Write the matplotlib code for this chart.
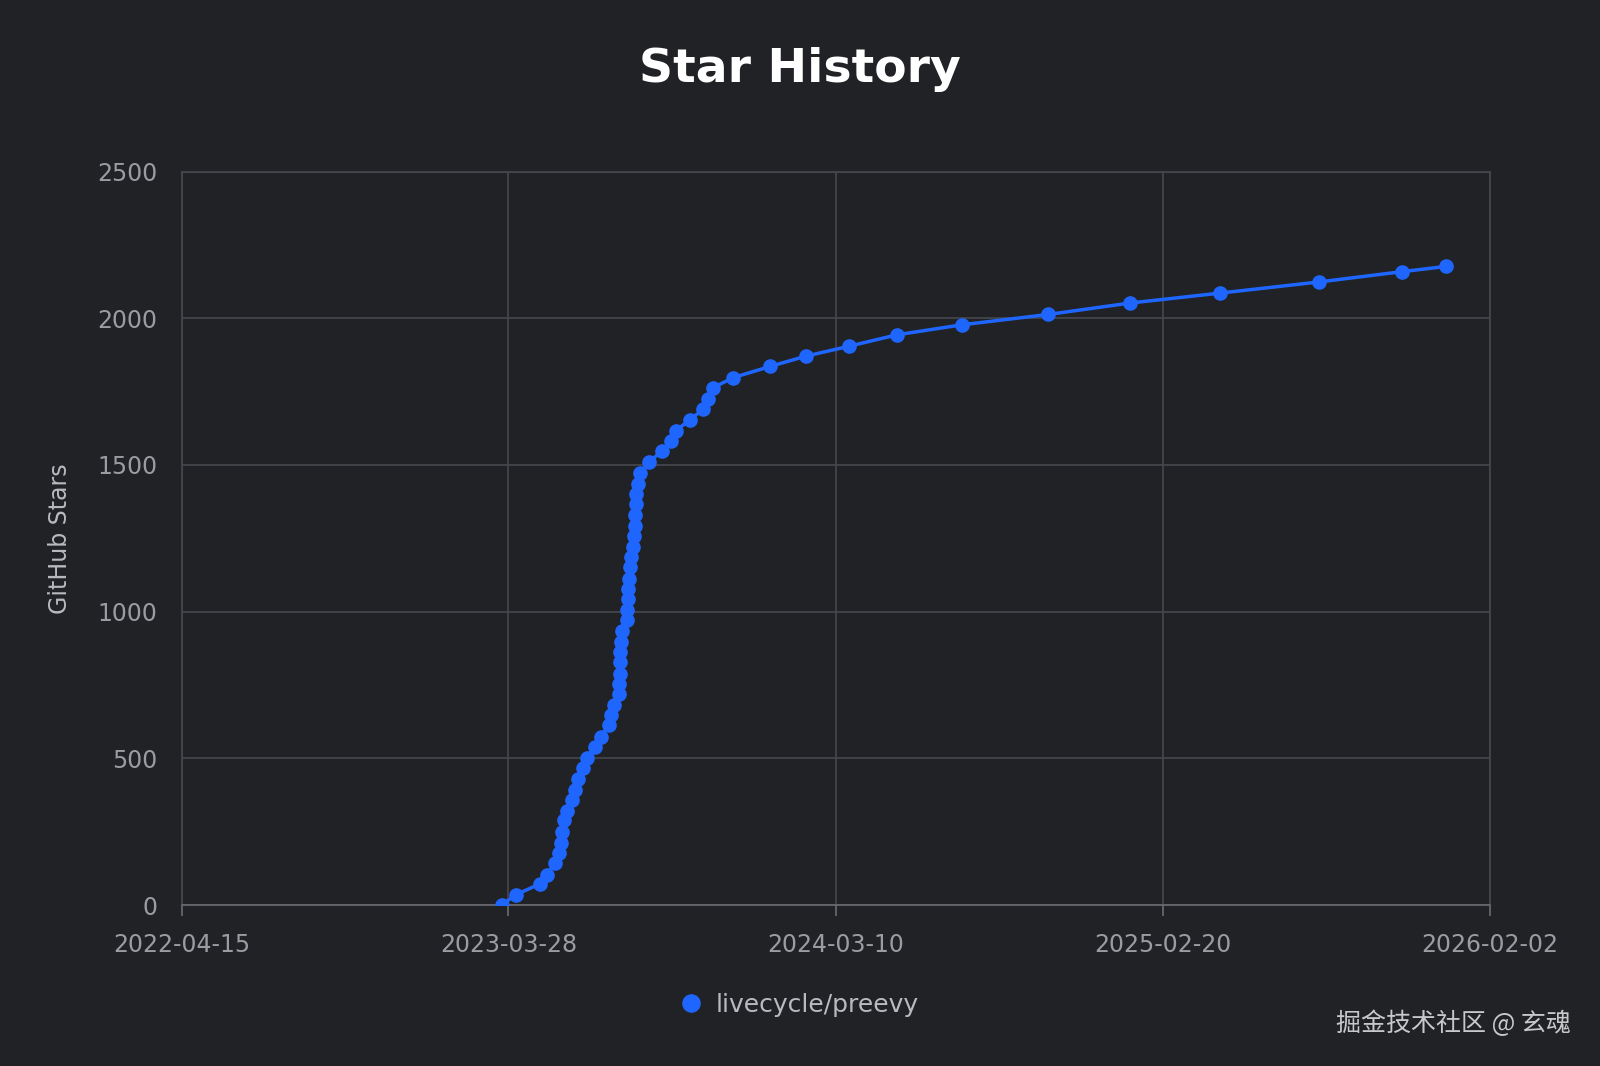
import pandas as pd
import numpy as np
import matplotlib
matplotlib.use('Agg')
import matplotlib.pyplot as plt
import matplotlib.dates as mdates

plt.rcParams['font.family'] = ['DejaVu Sans', 'Noto Sans CJK SC']

START = pd.Timestamp('2022-04-15')
# days since 2022-04-15
days = [340, 355, 381, 388, 397, 401, 403, 404, 406, 409, 415, 418, 421, 426, 430,
        439, 445, 454, 456, 459, 464, 464, 466, 466, 466, 467, 468, 473, 473, 474,
        474, 475, 476, 477, 479, 480, 481, 482, 483, 483, 485, 487, 496, 510, 520,
        525, 540, 554, 559, 564, 586, 625, 663, 709, 760, 829, 920, 1007, 1103,
        1208, 1296, 1343]
stars = [0, 35, 73, 104, 143, 177, 212, 250, 289, 320, 358, 393, 431, 466, 500,
         539, 574, 612, 647, 681, 720, 754, 789, 828, 862, 897, 935, 970, 1005, 1043,
         1078, 1113, 1151, 1186, 1220, 1259, 1293, 1328, 1366, 1401, 1436, 1471, 1509, 1547, 1582,
         1617, 1655, 1690, 1725, 1763, 1798, 1836, 1871, 1905, 1944, 1978, 2013, 2052, 2086,
         2124, 2159, 2177]
tick_labels = ['2022-04-15', '2023-03-28', '2024-03-10', '2025-02-20', '2026-02-02']
y_ticks = [0, 500, 1000, 1500, 2000, 2500]

dates = START + pd.to_timedelta(days, unit='D')
tick_dates = pd.to_datetime(tick_labels)

BG = '#212226'
BLUE = '#1f66ff'
GRID = '#46484e'
TXT = '#9a9ca2'

fig = plt.figure(figsize=(16, 10.66), dpi=100, facecolor=BG)
ax = fig.add_axes([0.1135, 0.151, 0.8175, 0.688])
ax.set_facecolor(BG)
ax.plot(dates, stars, color=BLUE, lw=2.5, marker='o', ms=9.5, zorder=3,
        label='livecycle/preevy')
ax.set_xlim(tick_dates[0], tick_dates[-1])
ax.set_ylim(0, 2500)
ax.set_xticks(tick_dates)
ax.set_xticklabels(tick_labels)
ax.set_yticks(y_ticks)
ax.grid(True, color=GRID, lw=1.2)
for s in ax.spines.values():
    s.set_color(GRID)
    s.set_linewidth(1.2)
ax.spines['bottom'].set_color('#6a6c72')
ax.tick_params(axis='both', colors=TXT, labelsize=17, length=8, width=1.2)
ax.tick_params(axis='x', pad=12, colors='#6a6c72', labelcolor=TXT)
ax.tick_params(axis='y', length=0, pad=17.5)
ax.set_ylabel('GitHub Stars', color='#b8bac0', fontsize=17, labelpad=18)

fig.text(0.5, 0.935, 'Star History', color='white', fontsize=34, weight='bold',
         ha='center', va='center')
leg = fig.legend(loc='center', bbox_to_anchor=(0.5, 0.057), frameon=False,
                 fontsize=18, handlelength=0.8, handletextpad=0.6, markerscale=1.3)
for t in leg.get_texts():
    t.set_color('#b8bac0')
for h in leg.legend_handles:
    h.set_linestyle('none')
fig.text(0.982, 0.04, '掘金技术社区 @ 玄魂', color='#c8c8cc', fontsize=18,
         ha='right', va='center', family=['Noto Sans CJK SC', 'DejaVu Sans'])

fig.savefig('out.png', facecolor=BG)
